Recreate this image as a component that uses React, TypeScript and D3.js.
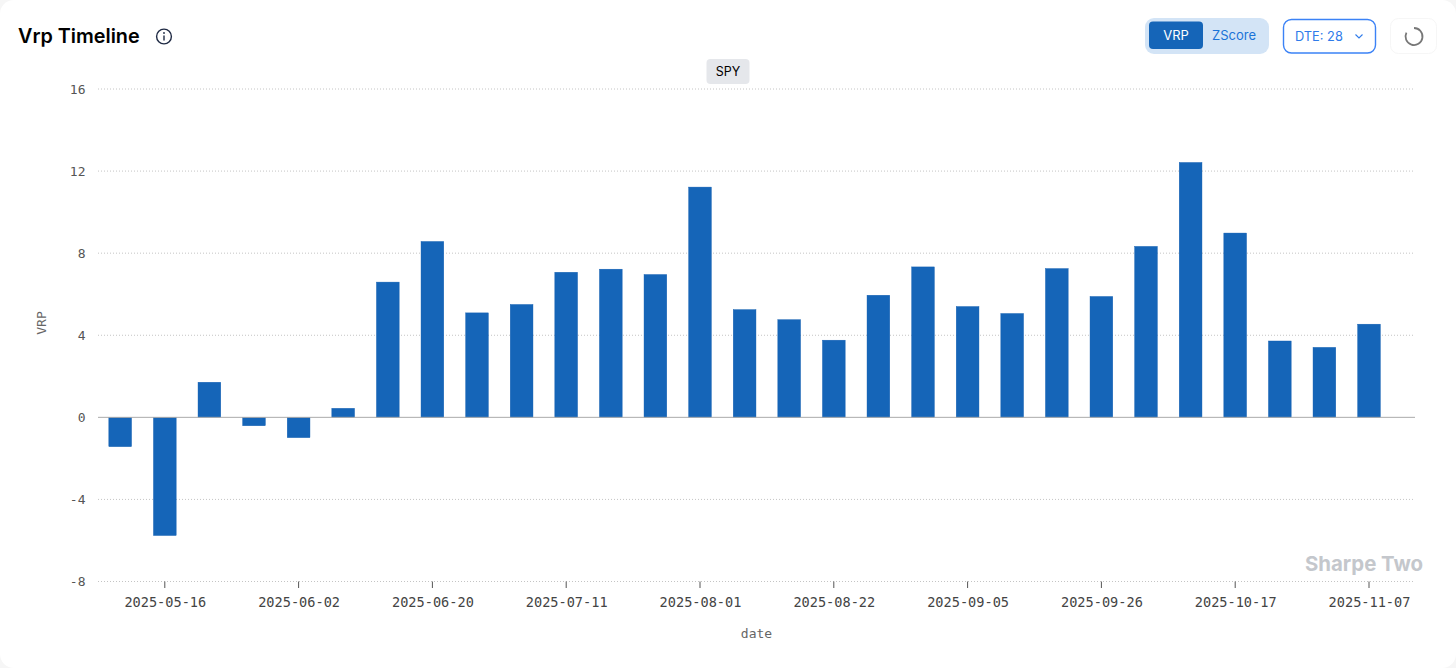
import React from "react";
import * as d3 from "d3";

const categories = [
  "2025-05-09","2025-05-16","2025-05-23","2025-05-27","2025-06-02","2025-06-06","2025-06-13","2025-06-20",
  "2025-06-27","2025-07-03","2025-07-11","2025-07-18","2025-07-25","2025-08-01","2025-08-08","2025-08-15",
  "2025-08-22","2025-08-29","2025-09-02","2025-09-05","2025-09-12","2025-09-19","2025-09-26","2025-10-03",
  "2025-10-10","2025-10-17","2025-10-24","2025-10-31","2025-11-07",
];
const vrpValues = [
  -1.43,-5.76,1.71,-0.41,-0.99,0.44,6.59,8.57,5.09,5.5,7.07,7.22,6.96,11.22,5.25,4.76,3.76,5.95,7.33,
  5.4,5.06,7.25,5.89,8.33,12.42,8.98,3.72,3.41,4.54,
];
const xTickLabels = [
  "2025-05-16","2025-06-02","2025-06-20","2025-07-11","2025-08-01","2025-08-22","2025-09-05","2025-09-26","2025-10-17","2025-11-07",
];
const yTicks = [16, 12, 8, 4, 0, -4, -8];

const W = 1456, H = 668;
const MONO = "'DejaVu Sans Mono', monospace";
const SANS = "Inter, 'Noto Sans', sans-serif";
const BLUE = "#1565b8";

export default function App() {
  const x = d3.scaleBand<string>().domain(categories).range([97.9, 1391.3]).paddingInner(0.49).paddingOuter(0.245);
  const y = d3.scaleLinear().domain([-8, 16]).range([581.5, 89]);
  const spinner = d3.arc()({ innerRadius: 7.6, outerRadius: 9.4, startAngle: 0, endAngle: Math.PI * 1.65 }) as string;
  return (
    <div style={{ position: "fixed", left: 0, top: 0, width: W, height: H, background: "#f6f6f6" }}>
      <svg width={W} height={H} style={{ display: "block" }}>
        <rect x={0} y={0} width={W} height={H} rx={14} fill="#ffffff" />
        <text x={18} y={43} fontFamily={SANS} fontSize={19.8} fontWeight={600} fill="#000">Vrp Timeline</text>
        <g fill="none" stroke="#1f2a44" strokeWidth={1.4}>
          <circle cx={164} cy={36.5} r={7.4} />
          <path d="M164 36 v4" strokeLinecap="round" />
        </g>
        <circle cx={164} cy={33} r={0.9} fill="#1f2a44" />

        {/* segmented control */}
        <rect x={1145} y={18} width={124} height={36} rx={9} fill="#d3e4f6" />
        <rect x={1149} y={21.5} width={54} height={27.5} rx={4} fill={BLUE} />
        <text x={1176} y={40} textAnchor="middle" fontFamily={SANS} fontSize={13} fill="#fff">VRP</text>
        <text x={1234} y={39.5} textAnchor="middle" fontFamily={SANS} fontSize={13} fill="#1a73d8">ZScore</text>
        <rect x={1283.5} y={19.5} width={92} height={33.5} rx={8} fill="#fff" stroke="#3b82f6" strokeWidth={1.4} />
        <text x={1295} y={41} fontFamily={SANS} fontSize={12.8} fill="#2f7bea">DTE: 28</text>
        <path d="M1355.5 34.5 l3.5 3.5 l3.5 -3.5" fill="none" stroke="#2f7bea" strokeWidth={1.1} />
        <rect x={1390.5} y={18.5} width={46} height={35} rx={8} fill="#fff" stroke="#f6f6f6" />
        <path d={spinner} transform="translate(1414,36.5)" fill="#777" />

        {/* SPY chip */}
        <rect x={706.5} y={59} width={43} height={25} rx={4} fill="#e5e7eb" />
        <text x={728} y={76} textAnchor="middle" fontFamily={SANS} fontSize={12.5} fill="#000">SPY</text>

        {/* grid + y labels */}
        {yTicks.map((t) => (
          <g key={t}>
            {t !== 0 && <line x1={98} x2={1415} y1={y(t)} y2={y(t)} stroke="#c4c4c4" strokeWidth={1} strokeDasharray="1 2" />}
            <text x={85.5} y={y(t) + 4.5} textAnchor="end" fontFamily={MONO} fontSize={13} fill="#555">{t}</text>
          </g>
        ))}

        {/* bars */}
        {categories.map((c, i) => {
          const v = vrpValues[i];
          return (
            <rect key={c} x={x(c)} width={x.bandwidth()} y={Math.min(y(v), y(0))} height={Math.abs(y(v) - y(0))}
              fill={BLUE} stroke="#0f5cb0" strokeWidth={0.4} />
          );
        })}
        <line x1={98} x2={1415} y1={y(0)} y2={y(0)} stroke="#aaaaaa" strokeWidth={1} />

        {/* x axis */}
        {xTickLabels.map((l) => {
          const cx = (x(l) as number) + x.bandwidth() / 2;
          return (
            <g key={l}>
              <line x1={cx} x2={cx} y1={581.5} y2={588} stroke="#555" strokeWidth={1} />
              <text x={cx + 0.5} y={607} textAnchor="middle" fontFamily={MONO} fontSize={13.6} fill="#444">{l}</text>
            </g>
          );
        })}

        <text x={756.5} y={638} textAnchor="middle" fontFamily={MONO} fontSize={13} fill="#666">date</text>
        <text transform="translate(46,323) rotate(-90)" x={0} y={0} textAnchor="middle" fontFamily={MONO} fontSize={13} fill="#666">VRP</text>
        <text x={1423} y={571} textAnchor="end" fontFamily={SANS} fontSize={20.4} fontWeight={700} fill="#c4c7cc">Sharpe Two</text>
      </svg>
    </div>
  );
}
